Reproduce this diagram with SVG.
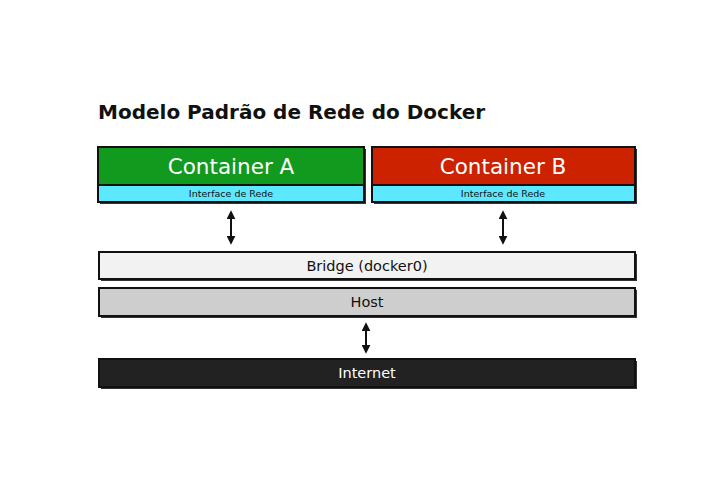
<svg xmlns="http://www.w3.org/2000/svg" width="728" height="499" viewBox="0 0 728 499">
<style>
.box{stroke:#111;stroke-width:2}
.shadow{fill:#333}
.t{font-family:"DejaVu Sans",Verdana,sans-serif;text-anchor:middle}
.conn{stroke:#111;stroke-width:2;fill:none;marker-start:url(#ah);marker-end:url(#ah)}
</style>
<defs>
<marker id="ah" viewBox="0 0 10 10" refX="8" refY="5" markerWidth="4.5" markerHeight="4.5" orient="auto-start-reverse">
<path d="M0,0 L10,5 L0,10 z" fill="#111"/>
</marker>
</defs>
<rect width="728" height="499" fill="#fff"/>
<text x="98" y="119" font-family="DejaVu Sans,Verdana,sans-serif" font-weight="bold" font-size="20" fill="#111">Modelo Padrão de Rede do Docker</text>
<g id="containerA">
<rect x="100" y="149" width="266" height="55" class="shadow"/>
<rect x="98" y="147" width="266" height="38" fill="#129a1f" class="box"/>
<rect x="98" y="185" width="266" height="17" fill="#5ce8ff" class="box"/>
<text x="231" y="174" class="t" font-size="21.5" fill="#fff">Container A</text>
<text x="231" y="197" class="t" font-size="9.5" fill="#111">Interface de Rede</text>
</g>
<g id="containerB">
<rect x="374" y="149" width="263" height="55" class="shadow"/>
<rect x="372" y="147" width="263" height="38" fill="#cc2200" class="box"/>
<rect x="372" y="185" width="263" height="17" fill="#5ce8ff" class="box"/>
<text x="503" y="174" class="t" font-size="21.5" fill="#fff">Container B</text>
<text x="503" y="197" class="t" font-size="9.5" fill="#111">Interface de Rede</text>
</g>
<g id="bridge">
<rect x="101" y="254" width="536" height="27" class="shadow"/>
<rect x="99" y="252" width="536" height="27" fill="#f2f2f2" class="box"/>
<text x="367" y="271" class="t" font-size="14.5" fill="#111">Bridge (docker0)</text>
</g>
<g id="host">
<rect x="101" y="290" width="536" height="28" class="shadow"/>
<rect x="99" y="288" width="536" height="28" fill="#cfcecf" class="box"/>
<text x="367" y="307" class="t" font-size="14.5" fill="#111">Host</text>
</g>
<g id="internet">
<rect x="101" y="361" width="536" height="28" class="shadow"/>
<rect x="99" y="359" width="536" height="28" fill="#222" class="box"/>
<text x="367" y="378" class="t" font-size="14.5" fill="#fff">Internet</text>
</g>
<g id="connectors">
<line x1="231" y1="212" x2="231" y2="243" class="conn"/>
<line x1="503" y1="212" x2="503" y2="243" class="conn"/>
<line x1="366" y1="324" x2="366" y2="352" class="conn"/>
</g>
</svg>
